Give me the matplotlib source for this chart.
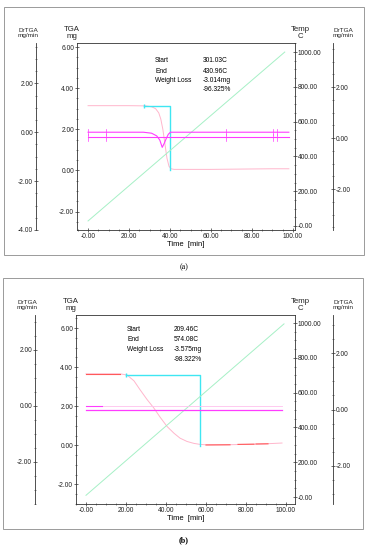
"""Two-panel TGA / DrTGA / temperature thermogram."""

import matplotlib
matplotlib.use("Agg")
import matplotlib.pyplot as plt
from matplotlib.patches import Rectangle
from matplotlib.ticker import AutoMinorLocator

W, H = 368, 550

# ---------------- data ----------------
# panel (a)
tga_a_time = [0, 10, 20, 28, 31, 33, 34.5, 35.5, 36.5, 37.5, 38.5, 39.5, 40.5, 42, 50, 60, 70, 80, 90, 98]
tga_a_mass = [3.15, 3.15, 3.15, 3.14, 3.1, 3.0, 2.8, 2.5, 2.0, 1.3, 0.6, 0.2, 0.08, 0.05, 0.05, 0.05, 0.06, 0.07, 0.08, 0.08]
temp_a_time = [0, 96]
temp_a_temp = [29, 1000]
step_a_time = [27.5, 40.2, 40.2]
step_a_mass = [3.13, 3.13, 0.0]
dr_a_time = [0, 10, 20, 27, 31, 33.5, 35, 36.2, 37.2, 38.2, 39.2, 40.2, 45, 60, 80, 98]
dr_a_left = [0, 0, 0, 0, -0.04, -0.15, -0.32, -0.62, -0.45, -0.25, -0.08, 0.0, 0, 0, 0, 0]
dr_a_right = [0.03] * 16
spike_a_time = [0, 8.6, 67.5, 90.5, 92]
info_a = ["301.03C", "430.96C", "-3.014mg", "-96.325%"]

# panel (b)
tga_b_time = [0, 17, 20.5, 24, 27, 30.5, 34, 37, 40.5, 44, 47, 50.5, 54, 57, 60, 70, 80, 90, 98]
tga_b_mass = [3.66, 3.66, 3.6, 3.3, 2.85, 2.35, 1.9, 1.45, 0.97, 0.62, 0.37, 0.2, 0.1, 0.05, 0.03, 0.03, 0.05, 0.08, 0.12]
tga_b_red = [([0, 17], [3.66, 3.66]), ([60, 72], [0.02, 0.03]), ([76, 84], [0.05, 0.06]), ([85, 91], [0.07, 0.08])]
temp_b_time = [0, 99]
temp_b_temp = [10, 995]
step_b_time = [20.2, 56.8, 56.8]
step_b_mass = [3.6, 3.6, -0.05]
dr_b_time = [0, 8, 98]
dr_b_left = [0, 0, 0]
dr_b_right = [0, 0, 0]
info_b = ["209.46C", "574.08C", "-3.575mg", "-98.322%"]

info_labels = ["Start", "End", "Weight Loss", ""]

time_ticks = [0, 20, 40, 60, 80, 100]
time_labels = ["-0.00", "20.00", "40.00", "60.00", "80.00", "100.00"]
tga_ticks = [-2, 0, 2, 4, 6]
tga_labels = ["-2.00", "0.00", "2.00", "4.00", "6.00"]
temp_ticks = [0, 200, 400, 600, 800, 1000]
temp_labels = ["-0.00", "200.00", "400.00", "600.00", "800.00", "1000.00"]

PINK = "#ffb6cc"
RED = "#ff5a5a"
CYAN = "#3fe6f2"
GREEN = "#a6f0c6"
MAGENTA = "#ff3cff"
AXC = "#333333"

plt.rcParams["font.family"] = ["Liberation Sans", "DejaVu Sans"]
plt.rcParams["font.size"] = 4.8

fig = plt.figure(figsize=(W / 100, H / 100), dpi=100)


def px_rect(l, t, r, b):
    return [l / W, 1 - b / H, (r - l) / W, (b - t) / H]


def style_ticks(ax, axis="y"):
    ax.tick_params(axis=axis, which="major", length=2.2, width=0.5, colors=AXC,
                   pad=1, direction="inout", labelcolor="#222222")
    ax.tick_params(axis=axis, which="minor", length=1.2, width=0.4, colors=AXC,
                   direction="inout")


def make_panel(box, outer, cfg):
    l, t, r, b = box
    fig.add_artist(Rectangle((outer[0] / W, 1 - outer[3] / H), (outer[2] - outer[0]) / W,
                             (outer[3] - outer[1]) / H, transform=fig.transFigure,
                             fill=False, ec="#9a9a9a", lw=0.7))
    ax = fig.add_axes(px_rect(l, t, r, b))
    ax.patch.set_alpha(0)
    for s in ax.spines.values():
        s.set_linewidth(0.6)
        s.set_color(AXC)
    ax.set_xlim(cfg["xlim"])
    ax.set_ylim(cfg["tga_lim"])
    ax.set_xticks(time_ticks, time_labels)
    ax.set_yticks(tga_ticks, tga_labels)
    ax.xaxis.set_minor_locator(AutoMinorLocator(4))
    ax.yaxis.set_minor_locator(AutoMinorLocator(4))
    style_ticks(ax, "both")
    ax.set_xlabel("Time  [min]", fontsize=5.5, labelpad=0.5)

    # temperature axis on the right side of the box
    axt = ax.twinx()
    axt.set_ylim(cfg["temp_lim"])
    axt.set_yticks(temp_ticks, temp_labels)
    axt.yaxis.set_minor_locator(AutoMinorLocator(4))
    style_ticks(axt)
    for s in axt.spines.values():
        s.set_visible(False)

    # DrTGA left (outer)
    axl = ax.twinx()
    axl.yaxis.set_ticks_position("left")
    axl.spines["left"].set_position(("axes", (cfg["drl_x"] - l) / (r - l)))
    for k in ["top", "right", "bottom"]:
        axl.spines[k].set_visible(False)
    axl.spines["left"].set_linewidth(0.6)
    axl.spines["left"].set_color(AXC)
    axl.set_ylim(cfg["drl_lim"])
    axl.set_yticks(cfg["drl_ticks"], ["%.2f" % v for v in cfg["drl_ticks"]])
    axl.yaxis.set_minor_locator(AutoMinorLocator(4))
    style_ticks(axl)

    # DrTGA right (outer)
    axr = ax.twinx()
    axr.spines["right"].set_position(("axes", (cfg["drr_x"] - l) / (r - l)))
    for k in ["top", "left", "bottom"]:
        axr.spines[k].set_visible(False)
    axr.spines["right"].set_linewidth(0.6)
    axr.spines["right"].set_color(AXC)
    axr.set_ylim(cfg["drr_lim"])
    axr.set_yticks([-2, 0, 2], ["-2.00", "0.00", "2.00"])
    axr.yaxis.set_minor_locator(AutoMinorLocator(4))
    style_ticks(axr)

    # curves
    axt.plot(cfg["temp_t"], cfg["temp_v"], color=GREEN, lw=0.7)
    ax.plot(cfg["tga_t"], cfg["tga_v"], color=PINK, lw=0.7)
    ax.plot(cfg["step_t"], cfg["step_v"], color=CYAN, lw=1.0, marker="|",
            markevery=[0], markersize=3)
    axl.plot(cfg["dr_t"], cfg["dr_l"], color=cfg["drl_color"], lw=cfg["drl_lw"])
    axr.plot(cfg["dr_t"], cfg["dr_r"], color=MAGENTA, lw=cfg["drr_lw"])

    # header labels above each axis
    y_head = t - 10
    for x, txt in [(cfg["drl_x"] - 8, "DrTGA\nmg/min"), (l - 5, "TGA\nmg"),
                   (r + 5, "Temp\nC"), (cfg["drr_x"] + 10, "DrTGA\nmg/min")]:
        fs = 5.6 if txt.startswith(("TGA", "Temp")) else 4.6
        fig.text(x / W, 1 - y_head / H, txt, ha="center", va="center",
                 fontsize=fs, linespacing=0.9, color="#222222")

    # info block
    for i, (lab, val) in enumerate(zip(info_labels, cfg["info"])):
        yy = cfg["info_y"][i]
        ax.text(cfg["info_x"][0], yy, lab, transform=ax.transAxes, va="center", fontsize=4.8)
        ax.text(cfg["info_x"][1], yy, val, transform=ax.transAxes, va="center", fontsize=4.8)
    return ax, axl, axr


ax_a, axl_a, axr_a = make_panel(
    (77, 43, 295, 230), (4, 7, 364, 255),
    dict(xlim=(-5.4, 101), tga_lim=(-2.9, 6.2), temp_lim=(-23, 1052),
         drl_x=36, drl_lim=(-4.0, 3.65), drl_ticks=[-4, -2, 0, 2],
         drr_x=333, drr_lim=(-3.6, 3.73),
         temp_t=temp_a_time, temp_v=temp_a_temp, tga_t=tga_a_time, tga_v=tga_a_mass,
         step_t=step_a_time, step_v=step_a_mass, dr_t=dr_a_time, dr_l=dr_a_left,
         dr_r=dr_a_right, drl_color=MAGENTA, drl_lw=0.8, drr_lw=0.8,
         info=info_a, info_x=(0.358, 0.578), info_y=(0.904, 0.850, 0.797, 0.749)))
for s in spike_a_time:
    axl_a.plot([s, s], [-0.12, 0.12], color=MAGENTA, lw=0.5)
    axr_a.plot([s, s], [-0.1, 0.16], color=MAGENTA, lw=0.5)

ax_b, axl_b, axr_b = make_panel(
    (76, 315, 295, 504), (3, 278, 363, 529),
    dict(xlim=(-5.0, 104.5), tga_lim=(-3.0, 6.67), temp_lim=(-40, 1046),
         drl_x=35, drl_lim=(-3.5, 3.24), drl_ticks=[-2, 0, 2],
         drr_x=333, drr_lim=(-3.35, 3.35),
         temp_t=temp_b_time, temp_v=temp_b_temp, tga_t=tga_b_time, tga_v=tga_b_mass,
         step_t=step_b_time, step_v=step_b_mass, dr_t=dr_b_time, dr_l=dr_b_left,
         dr_r=dr_b_right, drl_color="#ffc0ee", drl_lw=0.6, drr_lw=0.9,
         info=info_b, info_x=(0.233, 0.447), info_y=(0.921, 0.868, 0.815, 0.762)))
for seg_t, seg_v in tga_b_red:
    ax_b.plot(seg_t, seg_v, color=RED, lw=0.8)
axl_b.plot(dr_b_time[:2], dr_b_left[:2], color=MAGENTA, lw=0.8)

fig.text(0.5, 1 - 267 / H, "(a)", ha="center", va="center", fontsize=5.8,
         family=["Liberation Serif", "DejaVu Serif"])
fig.text(0.5, 1 - 540 / H, "(b)", ha="center", va="center", fontsize=5.8,
         family=["Liberation Serif", "DejaVu Serif"], fontweight="bold")

fig.savefig("out.png", dpi=100)
